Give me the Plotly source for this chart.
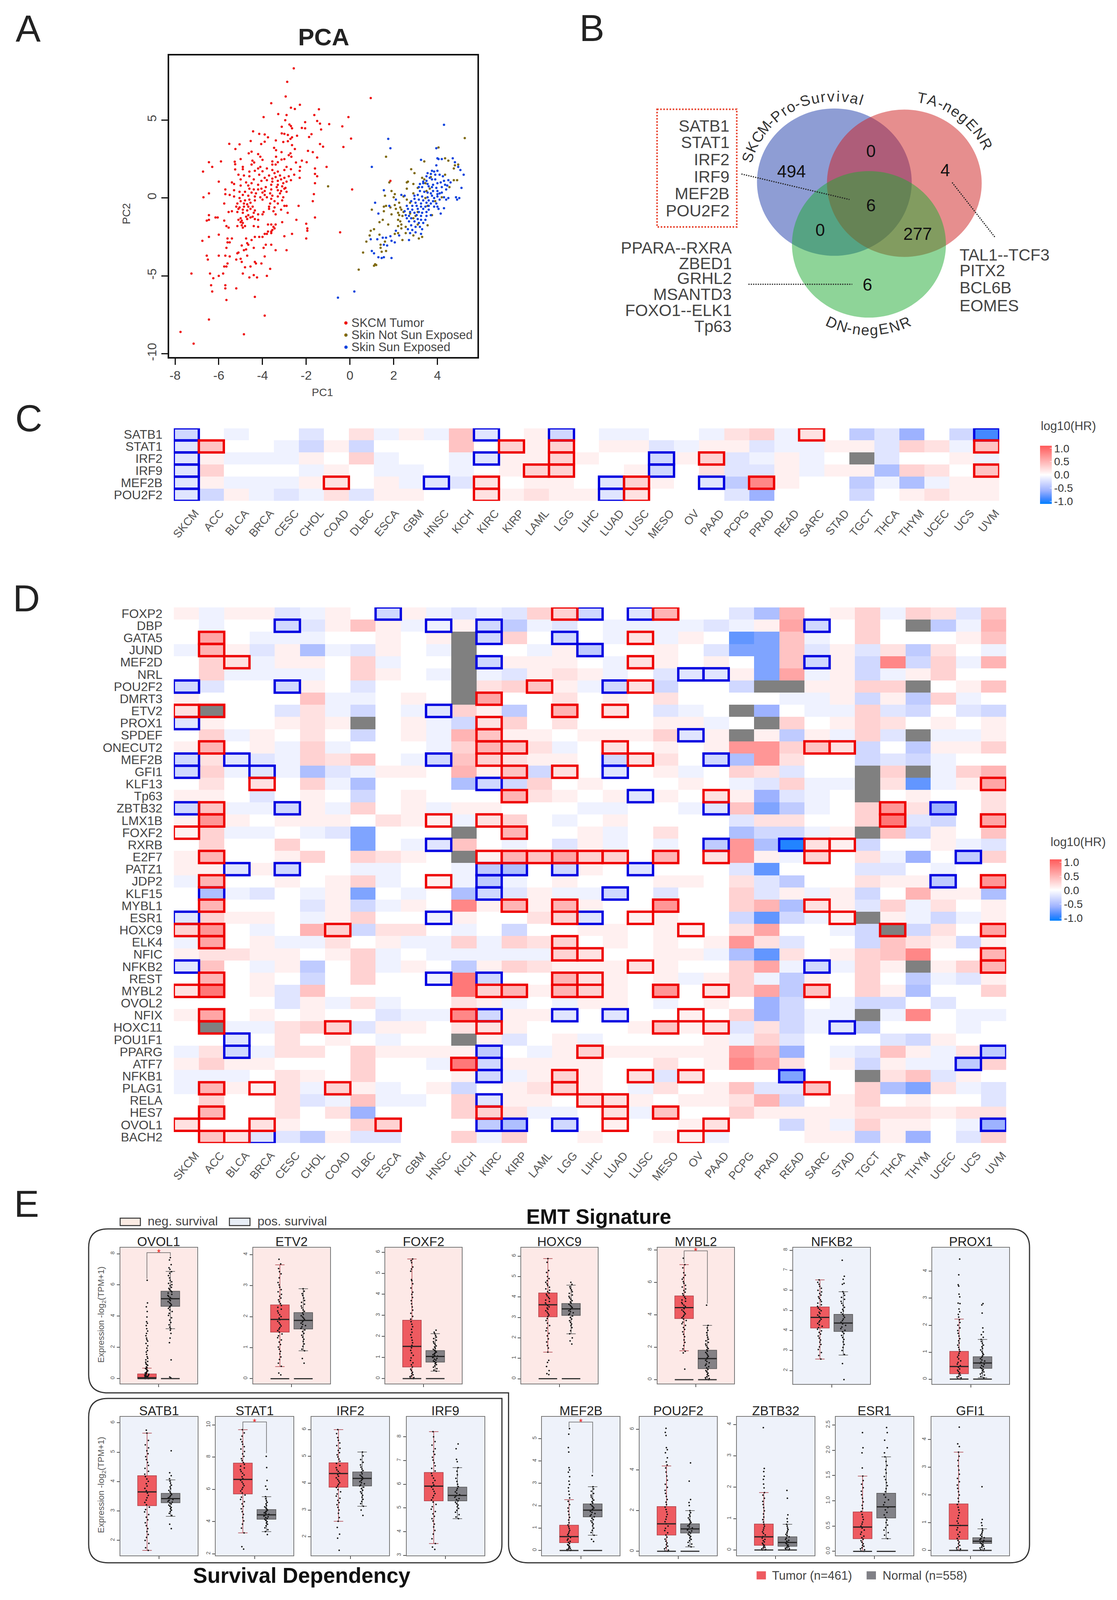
import plotly.graph_objects as go

W, H = 2859, 4310
FONT = "Liberation Sans"
N = None

# ---- panel A ----
tumor_points = [(-2.57,8.33),(-2.87,7.46),(-2.94,6.52),(0.95,6.42),(-3.6,6.09),(-2.29,5.99),(-2.7,5.8),(-2.52,5.72),(-1.42,5.7),(-3.28,5.39),(-2.9,5.33),(-1.63,5.33),(-3.95,5.2),(-0.07,5.2),(-2.96,5.0),(-1.5,4.95),(-2.05,4.87),(-1.37,4.78),(-0.95,4.75),(-2.77,4.72),(-3.12,4.58),(-2.7,4.62),(-0.35,4.6),(-2.2,4.5),(-2.05,4.48),(-2.65,4.48),(-1.32,4.4),(-4.43,4.28),(-4.15,4.12),(-3.9,4.08),(-3.12,4.15),(-3.0,4.12),(-1.76,4.1),(-2.84,4.05),(-2.42,4.0),(-1.87,3.92),(0.05,3.82),(-3.75,3.9),(-2.65,3.9),(-2.72,3.8),(-3.39,3.7),(-2.84,3.65),(-3.05,3.6),(-4.54,3.66),(-3.9,3.62),(-5.52,3.48),(-5.05,3.45),(-1.37,3.47),(-4.06,3.47),(-2.65,3.4),(-1.23,3.3),(-0.3,3.28),(-5.24,3.15),(-3.47,3.22),(-3.38,3.07),(-4.5,2.98),(-2.52,3.15),(-1.92,3.03),(-1.7,2.95),(-4.63,2.87),(-4.2,2.82),(-2.72,2.87),(-3.13,2.95),(-2.8,2.75),(-4.1,2.65),(-5.0,2.5),(-1.5,2.6),(-3.38,2.65),(-2.68,2.65),(-4.0,2.45),(-4.46,2.4),(-3.0,2.5),(-4.38,2.28),(-3.55,2.35),(-3.3,2.3),(-3.13,2.47),(-2.47,2.28),(-5.27,2.33),(-6.45,2.3),(-5.9,2.35),(-4.5,2.15),(-3.4,2.15),(-2.2,2.4),(-1.98,2.3),(-6.3,2.0),(-5.25,2.17),(-3.55,2.15),(-1.07,2.0),(-4.9,2.0),(-4.1,2.0),(-2.9,2.0),(-2.28,2.0),(-1.6,1.9),
(-6.72,1.7),(-5.25,1.84),(-4.9,1.85),(-4.6,1.7),(-4.35,1.75),(-4.2,1.9),(-4.0,1.72),(-3.8,1.9),(-3.55,1.8),(-3.45,1.6),(-3.3,1.7),(-3.0,1.8),(-2.7,1.85),(-2.3,1.75),(-1.6,1.55),(-5.1,1.5),(-4.85,1.45),(-4.6,1.4),(-4.15,1.5),(-3.9,1.3),(-3.7,1.45),(-3.55,1.25),(-3.4,1.35),(-3.2,1.45),(-3.0,1.3),(-2.8,1.4),(-2.55,1.5),(-2.3,1.3),(-1.5,1.4),(-5.0,1.2),(-4.4,1.2),(-4.05,1.1),(-3.8,1.15),(-3.55,1.05),(-3.3,1.1),(-3.15,1.2),(-2.9,1.05),(-2.7,1.15),(-6.0,1.05),(-5.4,1.0),(-4.75,1.0),(-4.5,0.95),(-3.6,0.85),(-3.3,0.85),(-3.05,0.95),(-1.6,0.95),
(-5.3,0.9),(-5.0,0.8),(-4.65,0.8),(-4.2,0.85),(-3.85,0.7),(-3.35,0.7),(-3.1,0.75),(-2.95,0.65),(-4.6,0.6),(-4.4,0.55),(-4.2,0.55),(-4.05,0.6),(-3.9,0.45),(-3.6,0.55),(-3.3,0.5),(-3.15,0.45),(-3.0,0.6),(-5.7,0.55),(-5.3,0.5),(-5.05,0.4),(-4.8,0.4),(-4.5,0.35),(-4.3,0.3),(-4.0,0.35),(-3.9,0.2),(-3.65,0.3),(-3.2,0.3),(-2.9,0.4),(-6.45,0.3),(-5.7,0.25),(-5.5,0.2),(-4.9,0.2),(-4.65,0.15),(-4.35,0.1),(-4.1,0.05),(-3.8,0.05),(-3.55,0.15),(-3.3,0.1),(-3.05,0.05),(-6.7,0.05),(-5.3,0.1),(-5.05,0.0),(-1.65,0.25),
(-4.8,-0.15),(-5.0,-0.2),(-4.6,-0.1),(-4.35,-0.15),(-4.0,-0.1),(-3.6,-0.05),(-3.45,-0.2),(-3.1,-0.15),(-1.7,-0.2),(-5.75,-0.35),(-5.15,-0.35),(-4.85,-0.35),(-4.7,-0.4),(-4.55,-0.3),(-3.65,-0.35),(-3.3,-0.35),(-2.9,-0.5),(-3.0,-0.5),(-5.2,-0.55),(-5.05,-0.6),(-4.85,-0.55),(-4.65,-0.55),(-4.45,-0.55),(-3.7,-0.55),(-3.45,-0.6),(-2.35,-0.5),(-5.1,-0.7),(-4.9,-0.75),(-4.7,-0.8),(-4.55,-0.7),(-4.35,-0.8),(-3.7,-0.7),(-3.15,-0.75),(-5.4,-0.85),(-5.55,-0.9),(-5.15,-0.9),(-4.4,-0.95),(-3.95,-0.9),(-3.5,-0.85),(-2.85,-0.95),(-4.9,-0.95),
(-6.45,-1.1),(-4.65,-1.1),(-4.2,-1.05),(-4.0,-1.05),(-3.4,-1.05),(-4.45,-1.2),(-4.75,-1.2),(-5.0,-1.3),(-4.95,-1.45),(-5.1,-1.4),(-4.7,-1.35),(-4.55,-1.25),(-4.35,-1.35),(-4.2,-1.4),(-6.45,-1.4),(-6.55,-1.45),(-6.15,-1.25),(-6.05,-1.25),(-5.75,-1.45),(-2.45,-1.4),(-1.6,-1.25),(-5.0,-1.55),(-4.9,-1.6),(-3.1,-1.55),(-3.4,-1.7),(-3.6,-1.7),(-3.75,-1.7),(-4.95,-1.75),(-4.8,-1.8),(-5.55,-1.9),(-5.15,-1.8),(-4.4,-1.8),(-5.65,-1.8),(-4.2,-1.85),(-3.5,-1.85),(-2.0,-1.65),(-1.95,-1.95),(-4.9,-1.9),(-3.45,-1.95),
(-1.95,-2.1),(-3.55,-2.05),(-3.75,-2.15),(-3.6,-2.15),(-3.8,-2.3),(-3.9,-2.3),(-3.6,-2.25),(-2.65,-2.3),(-6.0,-2.35),(-4.35,-2.5),(-4.15,-2.5),(-4.0,-2.5),(-6.45,-2.5),(-3.0,-2.45),(-5.6,-2.6),(-5.4,-2.6),(-2.0,-2.6),(-4.75,-2.6),(-4.5,-2.7),(-6.75,-2.75),(-5.5,-2.85),(-5.6,-2.85),(-4.7,-2.9),(-4.65,-3.0),(-3.6,-3.0),(-4.95,-3.05),(-3.85,-3.0),
(-5.65,-3.2),(-4.4,-3.2),(-3.95,-3.2),(-3.4,-3.35),(-2.9,-3.35),(-4.85,-3.35),(-4.75,-3.3),(-5.1,-3.5),(-5.15,-3.55),(-4.7,-3.7),(-6.55,-3.7),(-6.0,-3.7),(-5.7,-3.7),(-5.5,-3.75),(-3.9,-3.75),(-6.5,-3.95),(-5.2,-3.95),(-5.0,-3.9),(-4.95,-4.1),(-4.35,-4.1),(-4.05,-4.2),(-4.3,-4.2),(-5.6,-4.2),(-5.65,-4.4),(-5.75,-4.4),(-4.8,-4.45),(-4.55,-4.4),(-3.65,-4.55),(-7.25,-4.85),(-6.4,-4.85),(-5.8,-4.85),(-4.9,-4.85),(-4.4,-4.95),(-3.8,-5.0),(-6.0,-5.0),(-4.6,-5.1),(-4.25,-5.1),(-6.25,-5.15),(-5.7,-5.6),(-6.35,-5.6),(-5.7,-5.8),(-5.2,-5.8),(-6.3,-6.0),(-4.35,-6.35),(-5.65,-6.55),(-3.9,-7.55),(-6.45,-7.8),(-7.75,-8.6),(-4.85,-8.75),(-7.15,-9.35),(-0.45,-2.2),(0.1,0.55),(1.85,1.1)]
not_exposed_points = [(5.25,3.85),(4.05,3.25),(1.65,2.65),(4.35,2.55),(3.4,2.35),(2.8,1.85),(2.95,1.6),(-1.0,0.75),(1.8,1.0),(2.6,1.0),(2.65,1.05),(3.3,1.3),(3.4,1.2),(2.9,0.9),(4.75,1.15),(4.9,1.15),(4.55,0.7),(4.8,2.1),(4.95,2.15),(4.75,1.9),(3.65,0.6),(3.5,0.45),(3.1,0.65),(2.6,0.6),(1.9,0.45),(2.05,0.25),(1.6,0.15),(2.0,0.05),(2.9,0.3),(3.45,0.0),(2.45,0.1),(2.6,-0.1),(2.25,-0.3),(2.05,-0.45),(1.65,-0.5),(1.55,-0.55),(1.85,-0.6),(2.1,-0.7),(2.3,-0.6),(2.35,-0.75),(2.45,-0.9),(1.0,-0.75),(1.55,-0.85),(2.2,-0.95),(2.25,-1.1),(2.4,-1.15),(1.9,-1.05),(1.5,-1.4),(1.35,-1.55),(1.75,-1.7),(2.2,-1.4),(2.3,-1.5),(2.35,-1.7),(2.2,-1.8),(2.35,-1.95),(2.55,-1.85),(3.1,-1.7),(3.55,-1.75),(1.1,-2.0),(0.95,-2.1),(2.05,-2.3),(2.2,-2.25),(2.55,-2.25),(0.9,-2.4),(1.35,-2.35),(2.9,-2.4),(3.15,-2.6),(3.3,-2.5),(1.6,-2.8),(0.75,-2.8),(2.4,-2.7),(1.4,-3.0),(1.4,-3.2),(1.45,-3.45),(1.65,-3.4),(0.6,-3.5),(0.4,-4.6),(1.15,-4.25),(1.1,-4.35),(1.2,-4.3),(4.35,1.5),(3.7,1.35),(4.2,0.05),(3.9,-0.2),(3.75,-1.1),(2.75,-1.0),(2.9,-1.3),(3.1,-0.9),(3.0,-1.15),(3.55,-0.5),(2.75,-0.3),(3.45,0.95),(4.5,2.4)]
sun_exposed_points = [(-0.55,-6.4),(0.2,-6.0),(4.3,4.7),(1.75,3.8),(1.85,3.2),(3.95,3.2),(1.0,2.0),(5.2,1.5),(3.25,2.45),(4.0,2.55),(4.05,2.5),(4.2,2.5),(4.7,2.55),(4.8,2.3),(3.95,2.1),(4.95,2.0),(5.05,1.8),(4.0,1.75),(3.75,1.75),(3.85,1.7),(3.55,1.6),(3.7,1.55),(3.9,1.5),(4.1,1.5),(4.25,1.4),(3.5,1.4),(3.65,1.3),(3.35,1.05),(3.5,1.1),(3.75,1.2),(3.9,1.2),(4.15,1.0),(4.3,1.1),(4.5,1.15),(4.6,1.0),(3.2,0.9),(3.35,0.95),(3.55,0.9),(3.8,0.85),(4.0,0.95),(4.35,0.85),(4.45,0.8),(4.2,0.7),(3.15,0.7),(3.3,0.7),(3.6,0.75),(3.75,0.7),(3.95,0.65),(5.1,0.65),(4.4,0.55),(4.0,0.45),(3.8,0.45),(3.55,0.35),(3.2,0.45),(3.4,0.4),(3.7,0.3),(4.0,0.25),(4.1,0.3),(4.2,0.35),(1.55,0.5),(2.35,0.2),(2.5,0.15),(2.95,0.15),(3.1,0.2),(3.3,0.1),(3.55,0.05),(3.75,0.15),(3.85,0.0),(4.0,0.1),(4.3,0.05),(4.5,0.0),(4.85,0.05),(5.0,0.0),(2.95,-0.05),(3.15,-0.1),(3.35,-0.15),(3.6,-0.15),(3.8,-0.2),(4.1,-0.1),(4.4,-0.1),(4.9,-0.1),(2.8,-0.2),(3.0,-0.3),(3.25,-0.35),(3.5,-0.3),(3.7,-0.35),(3.95,-0.35),(1.15,-0.3),(2.1,-0.1),(2.6,-0.5),(2.85,-0.5),(3.05,-0.5),(3.25,-0.55),(3.45,-0.55),(3.6,-0.5),(3.85,-0.55),(4.0,-0.55),(1.8,-0.5),(2.65,-0.7),(2.85,-0.75),(3.1,-0.7),(3.35,-0.7),(3.6,-0.75),(4.05,-0.7),(4.3,-0.65),(2.5,-0.85),(2.75,-0.9),(2.95,-0.95),(3.15,-0.9),(3.3,-0.95),(3.5,-0.9),(1.3,-1.0),(4.15,-1.0),(2.55,-1.1),(2.7,-1.15),(3.05,-1.1),(3.25,-1.15),(3.5,-1.15),(3.7,-1.1),(2.6,-1.3),(2.8,-1.3),(3.1,-1.35),(3.25,-1.4),(3.45,-1.4),(2.7,-1.5),(2.95,-1.5),(3.15,-1.6),(3.35,-1.6),(2.8,-1.75),(3.0,-1.85),(3.2,-1.85),(2.65,-2.0),(2.85,-2.05),(3.3,-2.0),(2.1,-2.1),(2.75,-2.25),(3.0,-2.2),(3.25,-2.3),(2.25,-2.4),(1.85,-2.45),(1.5,-2.55),(1.65,-2.55),(0.95,-2.65),(1.25,-2.65),(2.7,-2.7),(1.9,-2.75),(2.05,-2.85),(1.55,-3.0),(1.7,-3.05),(1.0,-3.4),(1.1,-3.55),(1.55,-3.8),(1.3,-3.8),(1.45,-3.85),(1.9,-3.85)]

# ---- panels C, D ----
cancers = ["SKCM","ACC","BLCA","BRCA","CESC","CHOL","COAD","DLBC","ESCA","GBM","HNSC","KICH","KIRC","KIRP","LAML","LGG","LIHC","LUAD","LUSC","MESO","OV","PAAD","PCPG","PRAD","READ","SARC","STAD","TGCT","THCA","THYM","UCEC","UCS","UVM"]
c_genes = ["SATB1","STAT1","IRF2","IRF9","MEF2B","POU2F2"]
# log10(HR) in tenths, None = no data (grey)
c_values = [
 [-3,0,-1,0,0,-2,0,2,-1,1,-1,4,-2,0,1,-3,0,-1,-1,0,0,-1,2,3,-1,2,0,-4,-2,-6,0,-3,-9],
 [-2,4,0,0,-1,-3,1,-3,0,0,0,4,0,3,1,3,0,1,1,-2,-1,1,1,-2,-1,-1,1,1,-2,3,2,-1,4],
 [-2,1,-1,-1,-1,1,0,3,-1,0,0,-1,-2,1,1,3,1,0,0,-3,1,3,-2,-1,1,-1,0,N,-2,0,0,1,-1],
 [-2,3,0,0,0,-1,1,0,-1,-1,0,-1,0,1,3,3,0,0,1,-3,0,2,-2,-2,1,-1,1,1,-5,3,2,0,4],
 [-2,1,-1,-1,-1,1,2,0,1,-1,-2,-2,2,0,1,1,0,-2,3,1,0,-2,-4,8,1,0,0,-4,-1,-5,-1,1,1],
 [-2,-3,1,-1,-2,-1,2,-2,1,1,0,0,2,1,2,1,1,-2,2,0,0,0,-2,-6,0,0,0,-3,0,1,2,1,1],
]
c_red = {"SATB1":["SARC"],"STAT1":["ACC","KIRP","LGG","UVM"],"IRF2":["LGG","PAAD"],"IRF9":["LAML","LGG","UVM"],"MEF2B":["COAD","KIRC","LUSC","PRAD"],"POU2F2":["KIRC","LUSC"]}
c_blue = {"SATB1":["SKCM","KIRC","LGG","UVM"],"STAT1":["SKCM"],"IRF2":["SKCM","KIRC","MESO"],"IRF9":["SKCM","MESO"],"MEF2B":["SKCM","HNSC","LUAD","PAAD"],"POU2F2":["SKCM","LUAD"]}

d_genes = ["FOXP2","DBP","GATA5","JUND","MEF2D","NRL","POU2F2","DMRT3","ETV2","PROX1","SPDEF","ONECUT2","MEF2B","GFI1","KLF13","Tp63","ZBTB32","LMX1B","FOXF2","RXRB","E2F7","PATZ1","JDP2","KLF15","MYBL1","ESR1","HOXC9","ELK4","NFIC","NFKB2","REST","MYBL2","OVOL2","NFIX","HOXC11","POU1F1","PPARG","ATF7","NFKB1","PLAG1","RELA","HES7","OVOL1","BACH2"]
d_values = [
 [1,-1,1,1,-2,-1,1,0,-3,1,-1,-2,-1,-2,3,3,-3,0,-2,5,0,0,-2,-5,5,0,1,3,-1,3,2,-2,4],
 [0,-1,0,0,-3,-2,1,4,1,-1,-1,1,-3,-4,-1,-2,0,-1,-1,-1,-1,-2,-1,1,6,-3,0,3,0,N,-4,-1,5],
 [0,6,0,-1,-1,-1,0,0,1,0,1,N,-3,3,0,-3,0,-1,2,-1,1,0,-8,-7,4,-1,0,3,0,0,0,1,4],
 [-1,5,1,-2,1,-5,-1,-2,1,0,-1,N,0,0,-1,1,-4,0,0,1,0,-2,-7,-7,4,-2,1,-2,2,-4,2,0,-1],
 [0,3,2,-1,1,1,0,3,-1,0,0,N,-3,1,1,1,0,-1,2,1,0,1,0,-7,4,-3,1,-3,8,-3,3,-1,5],
 [0,3,-1,-1,-1,-1,0,3,1,0,-1,N,-1,-2,1,2,1,-1,0,-2,-2,-2,1,-7,6,-1,1,-3,-1,1,3,0,0],
 [-3,-2,0,0,-3,1,0,-2,0,0,0,N,2,3,4,1,-1,-3,2,-3,0,0,-3,N,N,1,1,3,3,N,0,1,4],
 [1,0,0,0,0,4,-1,-1,0,1,0,N,6,0,0,2,0,1,0,2,0,0,0,0,-1,-1,1,-3,1,-4,3,-1,0],
 [2,N,0,0,-2,2,-1,-3,0,-1,-2,3,1,-4,0,5,0,2,0,-2,-1,0,N,-6,0,-1,-1,3,-2,-3,0,-2,-3],
 [-2,1,0,0,1,2,1,N,0,1,-1,-3,2,3,0,2,0,0,0,1,1,-1,0,N,3,0,1,3,2,0,1,0,1],
 [0,3,-1,1,0,2,0,-3,0,1,-1,5,4,1,1,0,1,1,1,3,-2,1,N,1,-4,1,-1,3,-2,N,-1,-1,1],
 [1,5,0,1,-1,3,-1,0,0,0,-1,3,5,4,2,-1,0,2,0,1,0,1,7,7,3,4,2,-3,0,-4,1,1,3],
 [-3,2,-2,-2,-1,3,2,4,0,-1,-3,4,3,2,1,1,0,-3,2,2,0,-3,-5,7,2,0,0,-3,-2,-3,-1,0,0],
 [-3,3,-1,-2,-1,-5,-2,-1,1,1,0,5,1,4,-3,2,0,-2,0,1,-1,0,3,2,-2,0,0,N,3,N,-1,3,5],
 [0,2,0,2,0,3,-1,-5,0,0,0,-5,-3,-3,3,0,1,0,0,0,1,0,-1,-2,3,-1,-1,N,2,-8,-1,1,6],
 [1,1,0,-2,0,1,0,-3,0,1,0,0,0,5,2,1,0,1,-2,1,0,2,1,-6,-2,-1,0,N,0,1,0,0,2],
 [-3,4,-1,-1,-3,1,-1,3,0,1,-1,1,1,0,0,0,-1,-1,0,0,-1,-2,4,-7,-4,-1,0,3,7,2,-6,0,2],
 [1,7,1,0,1,1,1,0,2,1,1,-1,2,3,0,-1,0,1,0,0,0,0,-2,2,2,0,0,3,9,-2,-3,0,6],
 [1,3,-1,-1,0,-1,-2,-7,0,0,0,N,0,5,0,0,1,-1,0,2,0,0,-5,-3,-3,-1,1,N,4,-3,1,0,4],
 [0,3,0,0,3,0,0,-7,0,-1,-2,4,0,-1,0,-2,1,-1,0,-1,0,-4,7,-5,-10,2,1,-3,0,0,1,-1,-2],
 [1,5,0,0,1,3,0,3,2,1,0,N,1,5,4,6,3,3,0,5,0,2,7,1,-1,3,0,2,-1,-6,0,-4,3],
 [1,1,-2,1,-3,0,0,-1,-1,0,0,-1,-4,-5,0,-3,1,0,-2,0,0,0,-2,-8,0,0,0,-2,-2,0,-1,0,0],
 [-1,5,0,0,1,0,1,3,-1,0,1,-1,-4,-1,0,1,0,0,0,1,1,0,2,-2,-4,0,0,2,1,1,-4,0,7],
 [0,-5,-1,-2,0,-1,1,-7,0,-1,0,-5,-3,-2,1,-1,-1,-3,0,-2,0,0,3,-2,1,-1,1,-3,0,5,1,1,-5],
 [0,5,0,0,0,-2,1,-3,-1,1,0,8,1,5,1,5,1,0,0,7,0,0,3,5,-5,2,1,-2,3,-1,2,0,1],
 [-2,3,1,1,0,-1,1,3,0,0,-1,1,0,0,2,3,-2,0,1,1,0,0,-3,-8,-3,-1,1,N,1,-1,-3,-1,1],
 [3,7,0,-1,0,5,3,-3,2,2,0,-1,0,-3,0,0,1,1,0,1,1,0,2,6,0,0,-1,-3,N,-3,2,0,6],
 [-1,6,0,1,-1,-1,2,0,1,-1,-1,3,-1,3,2,3,0,1,0,1,0,1,7,2,-2,0,0,-3,4,2,1,-3,1],
 [1,2,2,1,1,0,1,3,-1,0,-1,-1,-1,-1,-1,3,2,0,0,1,1,-1,-5,-8,2,0,1,3,4,8,0,0,5],
 [-2,4,0,-1,1,-4,0,3,-1,1,0,-4,1,3,2,1,1,1,2,1,0,0,3,6,-1,-3,-1,3,1,N,1,3,5],
 [0,5,0,1,0,-3,0,3,0,0,-1,9,-3,0,0,5,2,1,0,1,-1,1,3,-1,-4,1,0,3,0,-4,-1,-2,1],
 [2,9,0,1,-2,4,0,0,0,0,0,9,3,5,1,5,3,1,0,7,0,2,3,6,-4,4,0,3,1,-5,0,0,3],
 [0,0,0,0,-2,1,-1,2,-1,0,0,2,1,-1,0,-1,1,1,0,-1,0,1,0,-6,-3,0,-1,-3,-3,0,-2,0,0],
 [1,6,0,1,0,1,0,0,-2,-1,-1,8,-3,1,1,-2,0,-2,0,0,1,0,3,-6,-3,-1,-1,N,-1,8,0,-1,-1],
 [0,N,-1,-1,2,3,3,-2,1,1,0,2,2,1,0,0,0,0,1,4,1,2,-2,2,-3,-1,-2,-4,0,0,0,-1,0],
 [0,0,-2,0,2,0,1,0,-1,0,0,N,1,-2,0,1,-1,0,0,0,0,1,-1,3,-2,0,0,0,-2,-3,1,0,0],
 [-1,2,-3,-1,2,2,0,3,1,1,1,1,-4,0,-1,1,3,1,1,1,1,1,7,5,-6,0,-1,-2,4,1,-1,2,-4],
 [1,3,1,1,0,0,0,3,0,0,-1,9,-3,1,1,1,1,0,0,2,0,1,8,6,2,0,1,-3,1,-1,-1,-4,3],
 [-1,-1,-1,0,2,1,0,3,0,0,0,1,-3,-1,1,3,1,0,2,-2,2,0,0,0,-7,0,0,N,2,4,-2,1,0],
 [-1,5,1,1,2,-1,3,1,-1,0,1,-3,0,1,2,3,1,0,-1,2,0,1,4,-2,-2,4,0,3,-5,-7,2,-1,-2],
 [0,3,0,0,2,-2,-1,4,-1,-1,0,3,-2,1,1,0,2,2,1,0,1,1,2,5,-3,0,1,3,0,1,0,0,-2],
 [0,5,0,0,2,0,2,-6,0,0,0,3,3,2,-1,-1,0,2,-1,4,0,0,3,1,1,1,1,2,2,2,1,2,2],
 [2,0,0,2,1,0,0,3,3,0,0,0,-4,-5,0,-3,0,1,0,0,1,2,0,0,-3,1,-1,3,1,1,0,-1,-6],
 [0,4,2,-2,-2,-4,1,-2,-2,0,0,3,-1,3,0,0,1,0,0,1,1,-1,0,0,0,1,1,-4,1,-6,0,-2,3],
]
d_red = {"FOXP2":["LGG","MESO"],"GATA5":["ACC","LUSC"],"JUND":["ACC"],"MEF2D":["BLCA","LUSC"],"POU2F2":["LAML","LUSC"],"DMRT3":["KIRC"],"ETV2":["SKCM","ACC","LGG","LUAD"],"PROX1":["KIRC"],"SPDEF":["KIRC"],"ONECUT2":["ACC","KIRC","KIRP","LUAD","SARC","STAD"],"MEF2B":["KIRC","LUSC"],"GFI1":["KIRP","LGG"],"KLF13":["BRCA","UVM"],"Tp63":["KIRP","PAAD"],"ZBTB32":["ACC","THCA"],"LMX1B":["ACC","HNSC","KIRC","THCA","UVM"],"FOXF2":["SKCM","KIRP"],"RXRB":["SARC","STAD"],"E2F7":["ACC","KIRC","KIRP","LAML","LGG","LIHC","LUAD","MESO","PAAD","SARC"],"JDP2":["ACC","HNSC","UVM"],"MYBL1":["ACC","KIRP","LGG","MESO","SARC"],"ESR1":["LGG","LUSC","STAD"],"HOXC9":["SKCM","ACC","COAD","OV","THCA","UVM"],"ELK4":["ACC","LGG"],"NFIC":["LGG","LIHC","UVM"],"NFKB2":["LUSC","UVM"],"REST":["ACC","LGG","LIHC"],"MYBL2":["SKCM","ACC","KIRC","KIRP","LGG","LIHC","MESO","PAAD","SARC"],"NFIX":["ACC","KICH","OV"],"HOXC11":["ACC","COAD","KIRC","MESO","PAAD"],"PPARG":["LIHC"],"ATF7":["KICH"],"NFKB1":["LGG","LUSC","OV"],"PLAG1":["ACC","BRCA","COAD","LGG","SARC"],"RELA":["LIHC","LUAD"],"HES7":["ACC","KIRC","LUAD","MESO"],"OVOL1":["SKCM","BRCA","ESCA","LUAD","PAAD"],"BACH2":["ACC","BLCA","OV"]}
d_blue = {"FOXP2":["ESCA","LIHC","LUSC"],"DBP":["CESC","HNSC","KIRC","SARC"],"GATA5":["KIRC","LGG"],"JUND":["LIHC"],"MEF2D":["KIRC","SARC"],"NRL":["OV","PAAD"],"POU2F2":["SKCM","CESC","LUAD"],"ETV2":["HNSC"],"PROX1":["SKCM"],"SPDEF":["OV"],"MEF2B":["SKCM","BLCA","HNSC","LUAD","PAAD"],"GFI1":["SKCM","BRCA","LUAD"],"KLF13":["KIRC"],"Tp63":["LUSC"],"ZBTB32":["SKCM","CESC","PAAD","UCEC"],"RXRB":["HNSC","PAAD","READ"],"E2F7":["UCS"],"PATZ1":["BLCA","CESC","KIRC","KIRP","LGG","LUSC"],"JDP2":["KIRC","UCEC"],"KLF15":["ACC","KIRC","LUAD"],"ESR1":["SKCM","HNSC","LIHC"],"NFKB2":["SKCM","SARC"],"REST":["HNSC","KIRC"],"NFIX":["KIRC","LGG","LUAD"],"HOXC11":["STAD"],"POU1F1":["BLCA"],"PPARG":["BLCA","KIRC","UVM"],"ATF7":["KIRC","UCS"],"NFKB1":["KIRC","READ"],"RELA":["KIRC"],"OVOL1":["KIRC","KIRP","LGG","UVM"],"BACH2":["BRCA"]}

# ---- panel E: q1, median, q3, lower, upper ----
tumor_box = {"OVOL1":[.02,.06,.3,0,.67],"ETV2":[1.5,1.91,2.38,.39,3.67],"FOXF2":[.55,1.53,2.77,0,5.68],"HOXC9":[3.03,3.62,4.2,1.3,5.88],"MYBL2":[3.77,4.45,5.17,1.78,7.1],"NFKB2":[4.12,4.65,5.17,2.57,6.52],"PROX1":[.2,.47,1.03,0,2.23],"SATB1":[3.18,3.65,4.2,1.66,5.65],"STAT1":[5.72,6.62,7.63,3.3,9.7],"IRF2":[3.85,4.36,4.76,2.58,6.0],"IRF9":[5.3,5.92,6.5,3.5,8.22],"MEF2B":[.35,.62,1.13,0,2.27],"POU2F2":[.8,1.35,2.2,0,4.2],"ZBTB32":[.15,.42,.83,0,1.83],"ESR1":[.25,.48,.78,0,1.49],"GFI1":[.4,.9,1.68,0,3.55]}
normal_box = {"OVOL1":[4.63,5.12,5.6,3.2,6.87],"ETV2":[1.6,1.88,2.13,.9,2.9],"FOXF2":[.78,1.05,1.33,.35,2.13],"HOXC9":[3.1,3.42,3.68,2.2,4.58],"MYBL2":[.68,1.3,1.82,0,3.35],"NFKB2":[3.95,4.37,4.8,2.77,5.93],"PROX1":[.4,.6,.83,.05,1.47],"SATB1":[3.28,3.42,3.6,2.82,4.06],"STAT1":[4.15,4.42,4.75,3.38,5.55],"IRF2":[3.9,4.18,4.42,3.14,5.16],"IRF9":[5.3,5.53,5.88,4.55,6.7],"MEF2B":[1.5,1.8,2.08,.68,2.85],"POU2F2":[.9,1.1,1.35,.22,2.0],"ZBTB32":[.12,.24,.42,0,.82],"ESR1":[.66,.88,1.15,.25,1.87],"GFI1":[.25,.33,.46,0,.78]}

OVOL1_t = [6.3,4.85,4.6,4.3,3.95,3.65,3.55,3.4,3.2,3.05,2.9,2.75,2.6,2.5,2.4,2.25,2.1,1.95,1.8,1.7,1.55,1.4,1.3,1.2,1.1,1.05,.95,.9,.85,.75,.7,.65,.6,.55,.5,.45,.4,.36,.32,.28,.25,.22,.2,.17,.15,.12,.1,.08,.06,.04,.03,.02,.01,0,0]
OVOL1_n = [7.75,7.6,7.3,7.1,7.0,6.85,6.75,6.6,6.45,6.3,6.2,6.1,6.02,5.95,5.85,5.78,5.7,5.62,5.55,5.48,5.4,5.33,5.26,5.2,5.13,5.07,5.0,4.93,4.86,4.8,4.72,4.65,4.58,4.5,4.4,4.3,4.18,4.05,3.9,3.75,3.6,3.45,3.3,3.2,3.1,2.9,2.6,2.3,1.2,.1,.05]
ETV2_t = [3.85,3.7,3.55,3.45,3.38,3.25,3.1,3.02,2.95,2.87,2.8,2.72,2.66,2.6,2.54,2.48,2.42,2.36,2.3,2.24,2.18,2.12,2.06,2.0,1.95,1.9,1.85,1.8,1.75,1.7,1.65,1.6,1.55,1.5,1.44,1.38,1.32,1.25,1.18,1.1,1.02,.95,.88,.8,.7,.62,.5,.4,.18,.12]
ETV2_n = [2.9,2.82,2.74,2.68,2.6,2.52,2.46,2.4,2.34,2.28,2.22,2.17,2.12,2.07,2.03,1.99,1.95,1.91,1.87,1.83,1.79,1.75,1.71,1.67,1.62,1.57,1.52,1.46,1.4,1.34,1.27,1.2,1.12,1.04,.95,.9,.65,.5]
FOXF2_t = [5.68,5.6,5.5,5.3,5.2,5.1,4.7,4.65,4.5,4.3,4.1,4.0,3.85,3.7,3.55,3.4,3.25,3.1,2.95,2.82,2.7,2.58,2.46,2.34,2.2,2.08,1.95,1.82,1.7,1.58,1.46,1.34,1.22,1.1,.98,.86,.75,.65,.55,.45,.38,.3,.24,.18,.13,.09,.05,.02,0]
FOXF2_n = [2.3,2.2,2.13,2.05,1.97,1.9,1.82,1.75,1.68,1.62,1.55,1.5,1.44,1.39,1.34,1.3,1.26,1.22,1.18,1.14,1.1,1.07,1.03,1.0,.96,.92,.88,.84,.8,.76,.71,.66,.6,.54,.47,.4,.35]
HOXC9_t = [5.88,5.7,5.3,5.2,5.0,4.9,4.8,4.72,4.64,4.56,4.48,4.4,4.33,4.26,4.2,4.13,4.06,3.99,3.92,3.85,3.78,3.71,3.64,3.58,3.52,3.46,3.4,3.33,3.26,3.19,3.12,3.05,2.95,2.85,2.72,2.6,2.48,2.35,2.22,2.1,1.95,1.8,1.62,1.5,1.3,.9,.8,.6,.4,.25,.2]
HOXC9_n = [4.72,4.62,4.5,4.42,4.34,4.26,4.18,4.1,4.03,3.96,3.89,3.82,3.76,3.7,3.64,3.58,3.53,3.48,3.43,3.38,3.33,3.28,3.23,3.18,3.13,3.07,3.0,2.92,2.84,2.76,2.68,2.6,2.5,2.35,2.2,2.0,1.85,1.7]
MYBL2_t = [7.5,7.1,6.9,6.6,6.45,6.3,6.2,6.05,5.95,5.82,5.72,5.6,5.5,5.4,5.3,5.2,5.1,5.0,4.92,4.84,4.76,4.68,4.6,4.52,4.45,4.38,4.3,4.22,4.14,4.06,3.98,3.9,3.82,3.74,3.65,3.55,3.45,3.35,3.22,3.1,2.95,2.8,2.65,2.45,2.3,2.1,1.9,1.75,1.65,.65]
MYBL2_n = [4.6,3.35,3.2,3.05,2.9,2.75,2.62,2.5,2.4,2.3,2.2,2.1,2.0,1.92,1.84,1.76,1.68,1.6,1.52,1.44,1.36,1.28,1.2,1.12,1.04,.96,.88,.8,.72,.64,.56,.48,.4,.32,.24,.18,.12,.07,.03,0]
NFKB2_t = [6.52,6.4,6.3,6.2,6.1,6.0,5.92,5.84,5.76,5.68,5.6,5.52,5.44,5.36,5.28,5.2,5.12,5.05,4.98,4.91,4.84,4.77,4.7,4.63,4.56,4.49,4.42,4.35,4.28,4.21,4.14,4.06,3.98,3.9,3.82,3.72,3.62,3.52,3.42,3.3,3.18,3.05,2.9,2.75,2.57]
NFKB2_n = [7.5,6.7,6.55,6.35,6.3,5.93,5.85,5.75,5.65,5.55,5.45,5.35,5.25,5.15,5.05,4.97,4.89,4.81,4.73,4.65,4.57,4.49,4.41,4.33,4.25,4.17,4.09,4.01,3.93,3.85,3.75,3.65,3.55,3.43,3.3,3.15,3.0,2.8,2.35,1.55]
PROX1_t = [4.45,3.87,3.5,3.45,3.15,3.05,2.82,2.8,2.6,2.5,2.4,2.3,2.2,2.1,2.0,1.9,1.8,1.7,1.6,1.5,1.42,1.34,1.26,1.18,1.1,1.03,.96,.89,.82,.75,.68,.62,.56,.5,.44,.38,.33,.28,.23,.19,.15,.11,.08,.05,.02,0]
PROX1_n = [2.8,2.75,2.45,1.9,1.75,1.65,1.55,1.47,1.4,1.33,1.26,1.2,1.14,1.08,1.02,.96,.91,.86,.81,.76,.71,.67,.63,.59,.55,.51,.47,.43,.39,.35,.31,.27,.23,.19,.15,.1,.05]
SATB1_t = [5.75,5.65,5.4,5.25,5.15,5.05,4.95,4.85,4.75,4.65,4.55,4.45,4.35,4.25,4.17,4.09,4.01,3.93,3.85,3.77,3.69,3.61,3.53,3.45,3.37,3.29,3.21,3.13,3.05,2.97,2.88,2.79,2.7,2.6,2.5,2.4,2.3,2.2,2.1,2.0,1.9,1.75,1.66]
SATB1_n = [5.05,4.3,4.2,4.1,4.02,3.95,3.88,3.82,3.76,3.7,3.65,3.6,3.56,3.52,3.48,3.45,3.42,3.39,3.36,3.33,3.3,3.27,3.24,3.2,3.16,3.12,3.08,3.03,2.98,2.92,2.85,2.55,2.4]
STAT1_t = [9.7,9.5,9.3,9.1,8.95,8.8,8.65,8.5,8.35,8.2,8.05,7.9,7.78,7.66,7.55,7.44,7.33,7.22,7.11,7.0,6.89,6.78,6.67,6.56,6.45,6.34,6.23,6.12,6.01,5.9,5.78,5.65,5.52,5.38,5.24,5.1,4.95,4.8,4.62,4.45,4.25,4.05,3.85,3.6,3.3,2.45,2.3]
STAT1_n = [8.05,7.35,6.55,6.2,6.0,5.55,5.42,5.3,5.2,5.1,5.0,4.92,4.85,4.78,4.72,4.66,4.6,4.55,4.5,4.45,4.4,4.35,4.3,4.25,4.2,4.15,4.08,4.0,3.92,3.84,3.74,3.62,3.5,3.38,3.2]
IRF2_t = [6.0,5.85,5.7,5.6,5.5,5.4,5.3,5.22,5.14,5.06,4.98,4.9,4.82,4.74,4.66,4.58,4.5,4.44,4.38,4.32,4.26,4.2,4.14,4.08,4.02,3.96,3.9,3.84,3.76,3.68,3.6,3.52,3.44,3.36,3.28,3.2,3.1,3.0,2.88,2.72,2.58,2.35,2.1,1.95,1.5]
IRF2_n = [5.16,5.02,4.88,4.78,4.68,4.6,4.53,4.47,4.41,4.35,4.3,4.26,4.22,4.18,4.14,4.1,4.06,4.02,3.98,3.94,3.9,3.85,3.8,3.74,3.68,3.62,3.55,3.48,3.4,3.32,3.24,3.14,3.0,2.8]
IRF9_t = [8.22,8.0,7.8,7.65,7.5,7.38,7.26,7.14,7.02,6.9,6.78,6.67,6.56,6.46,6.36,6.26,6.16,6.06,5.97,5.88,5.79,5.7,5.61,5.52,5.43,5.34,5.25,5.15,5.05,4.95,4.85,4.75,4.65,4.55,4.45,4.32,4.2,4.05,3.9,3.7,3.5,3.35,3.25]
IRF9_n = [7.7,7.5,7.05,6.95,6.7,6.55,6.4,6.25,6.12,6.0,5.9,5.82,5.75,5.68,5.62,5.56,5.5,5.45,5.4,5.35,5.3,5.24,5.18,5.12,5.05,4.98,4.9,4.82,4.72,4.62,4.55]
MEF2B_t = [5.45,5.2,4.6,4.4,3.7,3.6,3.5,3.3,3.1,2.95,2.8,2.65,2.5,2.35,2.2,2.05,1.9,1.75,1.6,1.48,1.36,1.24,1.14,1.06,.98,.9,.83,.76,.7,.64,.58,.52,.46,.41,.36,.31,.26,.22,.18,.14,.1,.07,.04,.02,0,0]
MEF2B_n = [3.35,2.85,2.75,2.65,2.55,2.47,2.39,2.32,2.25,2.18,2.12,2.06,2.0,1.95,1.9,1.85,1.8,1.75,1.7,1.65,1.6,1.55,1.5,1.44,1.38,1.32,1.25,1.18,1.1,1.0,.9,.8,.68,.5,.4]
POU2F2_t = [6.05,5.85,5.7,5.1,5.0,4.85,4.6,4.4,4.25,4.1,3.9,3.7,3.5,3.3,3.15,3.0,2.85,2.7,2.55,2.42,2.3,2.18,2.06,1.94,1.82,1.7,1.58,1.46,1.35,1.24,1.13,1.02,.91,.8,.7,.6,.5,.41,.33,.25,.18,.12,.06,.02,0]
POU2F2_n = [4.35,3.45,2.55,2.4,2.25,2.0,1.9,1.8,1.72,1.64,1.56,1.49,1.42,1.36,1.3,1.25,1.2,1.15,1.1,1.05,1.0,.95,.9,.85,.79,.73,.66,.59,.52,.44,.36,.28,.22]
ZBTB32_t = [3.9,2.6,2.5,2.35,2.25,2.1,1.98,1.83,1.75,1.65,1.55,1.45,1.35,1.25,1.15,1.05,.97,.89,.82,.76,.7,.64,.58,.53,.48,.43,.38,.34,.3,.26,.22,.18,.15,.12,.09,.07,.04,.02,0,0]
ZBTB32_n = [1.9,1.65,1.12,1.0,.9,.82,.76,.7,.65,.6,.55,.5,.46,.42,.38,.34,.31,.28,.25,.22,.19,.16,.13,.1,.08,.06,.04,.02,0]
ESR1_t = [2.35,2.05,1.95,1.65,1.49,1.4,1.33,1.26,1.19,1.12,1.05,.98,.91,.85,.79,.73,.68,.63,.58,.54,.5,.46,.42,.38,.34,.3,.27,.24,.21,.18,.15,.12,.1,.07,.05,.03,.01,0]
ESR1_n = [2.45,2.35,2.2,2.05,1.95,1.87,1.78,1.7,1.62,1.55,1.48,1.42,1.36,1.3,1.24,1.18,1.12,1.07,1.02,.97,.92,.87,.82,.77,.72,.67,.62,.57,.52,.47,.42,.37,.32,.25]
GFI1_t = [4.45,3.85,3.75,3.55,3.4,3.25,3.05,2.9,2.75,2.6,2.48,2.36,2.24,2.12,2.0,1.88,1.76,1.66,1.56,1.46,1.36,1.26,1.16,1.06,.98,.9,.82,.74,.66,.58,.5,.43,.36,.3,.24,.18,.13,.09,.05,.02,0]
GFI1_n = [2.3,1.12,1.0,.9,.78,.72,.66,.6,.55,.5,.46,.42,.39,.36,.33,.3,.27,.24,.21,.18,.15,.12,.09,.06,.03,0]
box_dots = {"OVOL1":(OVOL1_t,OVOL1_n),"ETV2":(ETV2_t,ETV2_n),"FOXF2":(FOXF2_t,FOXF2_n),"HOXC9":(HOXC9_t,HOXC9_n),"MYBL2":(MYBL2_t,MYBL2_n),"NFKB2":(NFKB2_t,NFKB2_n),"PROX1":(PROX1_t,PROX1_n),"SATB1":(SATB1_t,SATB1_n),"STAT1":(STAT1_t,STAT1_n),"IRF2":(IRF2_t,IRF2_n),"IRF9":(IRF9_t,IRF9_n),"MEF2B":(MEF2B_t,MEF2B_n),"POU2F2":(POU2F2_t,POU2F2_n),"ZBTB32":(ZBTB32_t,ZBTB32_n),"ESR1":(ESR1_t,ESR1_n),"GFI1":(GFI1_t,GFI1_n)}
# gene: tumor end, bracket top, normal end
sig_brackets = {"OVOL1":(6.4,8.07,7.85),"STAT1":(9.7,10.18,8.25),"MYBL2":(7.2,7.95,4.7),"MEF2B":(5.5,5.74,3.47)}
# gene: left, right, top, bottom px, y low, y high, y ticks, baseline under boxes
pink, lilac = "#FDE9E7", "#EEF2FA"
box_panels = [
 ("OVOL1",301,499,3369,3736,-.32,8.38,[0,2,4,6,8],pink,True),
 ("ETV2",643,841,3369,3736,-.16,4.22,[0,1,2,3,4],pink,True),
 ("FOXF2",983,1180,3369,3736,-.24,6.21,[0,1,2,3,4,5,6],pink,True),
 ("HOXC9",1333,1529,3369,3736,-.24,6.41,[0,1,2,3,4,5,6],pink,True),
 ("MYBL2",1683,1880,3369,3736,-.245,8.14,[0,2,4,6,8],pink,True),
 ("NFKB2",2032,2230,3369,3737,1.33,8.12,[2,3,4,5,6,7,8],lilac,False),
 ("PROX1",2390,2588,3369,3737,-.18,4.87,[0,1,2,3,4],lilac,True),
 ("SATB1",301,500,3826,4200,1.49,6.2,[2,3,4,5,6],lilac,False),
 ("STAT1",547,747,3826,4200,1.91,10.49,[2,4,6,8,10],lilac,False),
 ("IRF2",793,993,3826,4200,1.31,6.47,[2,3,4,5,6],lilac,False),
 ("IRF9",1038,1238,3826,4200,3.0,8.84,[3,4,5,6,7,8],lilac,False),
 ("MEF2B",1386,1586,3826,4200,-.22,5.97,[0,1,2,3,4,5],lilac,True),
 ("POU2F2",1637,1836,3826,4200,-.2,6.61,[0,2,4,6],lilac,True),
 ("ZBTB32",1887,2087,3826,4200,-.17,4.24,[0,1,2,3,4],lilac,True),
 ("ESR1",2141,2341,3826,4200,-.08,2.66,[0,.5,1,1.5,2,2.5],lilac,True),
 ("GFI1",2388,2588,3826,4200,-.18,4.82,[0,1,2,3,4],lilac,True),
]
venn_counts = ["494","0","4","6","0","277","6"]
venn_count_xy = [(2027,461),(2232,406),(2423,457),(2232,552),(2101,619),(2352,630),(2223,767)]
boxed_genes = ["SATB1","STAT1","IRF2","IRF9","MEF2B","POU2F2"]
left_genes = ["PPARA--RXRA","ZBED1","GRHL2","MSANTD3","FOXO1--ELK1","Tp63"]
right_genes = ["TAL1--TCF3","PITX2","BCL6B","EOMES"]

HEAT_SCALE = [[0,"#0080FF"],[.091,"#4488FF"],[.227,"#9DB2FF"],[.364,"#D0D8FF"],[.5,"#FFFFFF"],[1,"#FF5A5A"]]

fig = go.Figure()
annotations, shapes = [], []


def fx(x):
    return x / W


def fy(y):
    return 1 - y / H


def text(s, x, y, size, color="#444444", anchor="center", bold=False, angle=0):
    annotations.append(dict(text=f"<b>{s}</b>" if bold else s, x=fx(x), y=fy(y), xref="paper", yref="paper",
                            xanchor=anchor, yanchor="middle", showarrow=False, textangle=angle,
                            font=dict(family=FONT, size=size, color=color)))


def axis_pair(n, left, right, top, bottom):
    ax = dict(domain=[fx(left), fx(right)], anchor=f"y{n}", showgrid=False, zeroline=False)
    ay = dict(domain=[fy(bottom), fy(top)], anchor=f"x{n}", showgrid=False, zeroline=False)
    return ax, ay


def letter_width(c):
    if c in "il-It":
        return .32
    if c in "rf":
        return .42
    if c in "MNDCKEARSUP":
        return .72
    return .56


def arc_text(s, cx, cy, r, a0, a1, bottom=False):
    # one annotation per letter, turned along the circle
    import math
    widths = [letter_width(c) for c in s]
    total = sum(widths)
    run = 0
    for c, w in zip(s, widths):
        a = a0 + (a1 - a0) * (run + w / 2) / total
        run += w
        rad = a * math.pi / 180
        x = cx + r * math.cos(rad)
        y = cy - r * math.sin(rad)
        text(c, x, y, 38, "#333333", angle=(270 - a) if bottom else (90 - a))


def rounded(points, radius, flat=()):
    # svg path through the corner points, in paper fractions; corners in flat stay square
    import math
    parts = []
    k = len(points)
    for i, p in enumerate(points):
        prev, nxt = points[i - 1], points[(i + 1) % k]
        r = 0 if i in flat else radius
        dp = math.hypot(p[0] - prev[0], p[1] - prev[1])
        dn = math.hypot(p[0] - nxt[0], p[1] - nxt[1])
        a = (p[0] + (prev[0] - p[0]) * r / dp, p[1] + (prev[1] - p[1]) * r / dp)
        b = (p[0] + (nxt[0] - p[0]) * r / dn, p[1] + (nxt[1] - p[1]) * r / dn)
        parts.append(f"{'M' if i == 0 else 'L'} {fx(a[0])} {fy(a[1])} Q {fx(p[0])} {fy(p[1])} {fx(b[0])} {fy(b[1])}")
    return " ".join(parts) + " Z"


layout_axes = {}

# panel A
ax, ay = axis_pair(1, 427, 1220, 148, 962)
frame = dict(showline=True, mirror=True, linecolor="#111111", linewidth=4, ticks="outside", ticklen=16, tickwidth=3,
             tickcolor="#111111", tickfont=dict(family=FONT, size=32, color="#444444"))
ax.update(frame, range=[-8.27, 5.83], tickvals=[-8,-6,-4,-2,0,2,4], ticktext=["-8","-6","-4","-2","0","2","4"])
ay.update(frame, range=[-10.2, 9.15], tickvals=[-10,-5,0,5], ticktext=["-10","-5","0","5"], tickangle=-90)
layout_axes["xaxis"], layout_axes["yaxis"] = ax, ay
for pts, col, name in [(tumor_points, "#EE1111", "SKCM Tumor"), (not_exposed_points, "#7F6A12", "Skin Not Sun Exposed"),
                       (sun_exposed_points, "#1144DD", "Skin Sun Exposed")]:
    fig.add_trace(go.Scatter(x=[p[0] for p in pts], y=[p[1] for p in pts], mode="markers", name=name, showlegend=False,
                             marker=dict(size=6, color=col), xaxis="x", yaxis="y"))
text("PCA", 825, 98, 62, "#222222", bold=True)
text("PC1", 821, 1058, 28)
text("PC2", 317, 575, 28, angle=-90)
for s, y, col in [("SKCM Tumor", 870, "#EE1111"), ("Skin Not Sun Exposed", 903, "#7F6A12"), ("Skin Sun Exposed", 936, "#1144DD")]:
    text(f"<span style='color:{col}'>•</span> {s}", 874, y, 31, anchor="left")

# panel B
for cx, cy, r, col in [(2138, 490, 199, "rgba(30,60,170,0.5)"), (2318, 493, 199, "rgba(205,30,30,0.5)"), (2227, 658, 198, "rgba(30,170,50,0.5)")]:
    shapes.append(dict(type="circle", xref="paper", yref="paper", x0=fx(cx - r), x1=fx(cx + r), y0=fy(cy - r), y1=fy(cy + r),
                       fillcolor=col, line=dict(width=0), layer="below"))
for s, (x, y) in zip(venn_counts, venn_count_xy):
    text(s, x, y, 44, "#111111")
arc_text("SKCM-Pro-Survival", 2138, 490, 232, 167, 71)
arc_text("TA-negENR", 2318, 493, 235, 82, 23)
arc_text("DN-negENR", 2227, 658, 232, 242, 297, bottom=True)
for s, y in zip(boxed_genes, [338, 383, 429, 475, 521, 567]):
    text(s, 1870, y, 42, anchor="right")
for s, y in zip(left_genes, [667, 710, 750, 793, 836, 880]):
    text(s, 1876, y, 42, anchor="right")
for s, y in zip(right_genes, [686, 729, 775, 824]):
    text(s, 2458, y, 42, anchor="left")
shapes.append(dict(type="rect", xref="paper", yref="paper", x0=fx(1682), x1=fx(1887), y0=fy(293), y1=fy(611),
                   line=dict(color="#E8402A", width=4, dash="dot")))
for x0, y0, x1, y1 in [(1899, 468, 2177, 537), (2441, 491, 2552, 640), (1917, 766, 2184, 766)]:
    shapes.append(dict(type="line", xref="paper", yref="paper", x0=fx(x0), x1=fx(x1), y0=fy(y0), y1=fy(y1),
                       line=dict(color="#222222", width=3, dash="dot")))


# panels C and D
def heat_panel(n, genes, values, red, blue, box, bar_top, bar_len, bar_x):
    left, right, top, bottom = box
    assert all(len(r) == len(cancers) for r in values) and len(values) == len(genes)
    ax, ay = axis_pair(n, left, right, top, bottom)
    ax.update(range=[-.5, len(cancers) - .5], tickvals=[i + .35 for i in range(len(cancers))], ticktext=cancers, tickangle=-50,
              ticks="", ticklabelstandoff=8, tickfont=dict(family=FONT, size=29, color="#555555"))
    ay.update(range=[len(genes) - .5, -.5], tickvals=list(range(len(genes))), ticktext=genes, ticks="", ticklabelstandoff=28,
              tickfont=dict(family=FONT, size=32, color="#444444"))
    layout_axes[f"xaxis{n}"], layout_axes[f"yaxis{n}"] = ax, ay
    xs, ys = list(range(len(cancers))), list(range(len(genes)))
    fig.add_trace(go.Heatmap(x=xs, y=ys, z=[[1 if v is None else None for v in r] for r in values], zmin=0, zmax=1, showscale=False,
                             colorscale=[[0, "#808080"], [1, "#808080"]], hoverinfo="skip", xaxis=f"x{n}", yaxis=f"y{n}"))
    z = [[None if v is None else v / 10 for v in r] for r in values]
    fig.add_trace(go.Heatmap(x=xs, y=ys, z=z, zmin=-1.1, zmax=1.1, colorscale=HEAT_SCALE, xaxis=f"x{n}", yaxis=f"y{n}",
                             colorbar=dict(x=fx(bar_x), xanchor="left", xpad=0, y=fy(bar_top), yanchor="top", ypad=0, lenmode="pixels",
                                           len=bar_len, thicknessmode="pixels", thickness=30, outlinewidth=0, tickvals=[1, .5, 0, -.5, -1],
                                           ticktext=["1.0", "0.5", "0.0", "-0.5", "-1.0"], ticks="inside", tickcolor="#FFFFFF", ticklen=5,
                                           tickfont=dict(family=FONT, size=28, color="#333333"))))
    for marks, col in [(blue, "#0000E0"), (red, "#EE0000")]:
        for gene, cols in marks.items():
            row = genes.index(gene)
            for c in cols:
                i = cancers.index(c)
                shapes.append(dict(type="rect", xref=f"x{n}", yref=f"y{n}", x0=i - .5, x1=i + .5, y0=row - .5, y1=row + .5,
                                   line=dict(color=col, width=6), fillcolor="rgba(0,0,0,0)"))


heat_panel(2, c_genes, c_values, c_red, c_blue, (439, 2562, 1155, 1351), 1202, 149, 2667)
heat_panel(3, d_genes, d_values, d_red, d_blue, (439, 2580, 1639, 3086), 2320, 157, 2692)
text("log10(HR)", 2667, 1149, 31, anchor="left")
text("log10(HR)", 2692, 2273, 31, anchor="left")

# panel E
for j, (gene, left, right, top, bottom, lo, hi, ticks, bg, base) in enumerate(box_panels):
    n = 4 + j
    ax, ay = axis_pair(n, left, right, top, bottom)
    line = dict(showline=True, mirror=True, linecolor="#777777", linewidth=2, ticks="outside", tickcolor="#555555", ticklen=7, tickwidth=2)
    ax.update(line, range=[-.145, 3.145], tickvals=[1.5], showticklabels=False)
    ay.update(line, range=[lo, hi], tickvals=ticks, ticktext=[f"{t:.1f}" if gene == "ESR1" else str(t) for t in ticks], tickangle=-90,
              tickfont=dict(family=FONT, size=14, color="#555555"))
    layout_axes[f"xaxis{n}"], layout_axes[f"yaxis{n}"] = ax, ay
    shapes.append(dict(type="rect", xref=f"x{n} domain", yref=f"y{n} domain", x0=0, x1=1, y0=0, y1=1, fillcolor=bg, line=dict(width=0), layer="below"))
    text(gene, (left + right) / 2, top - 17, 33, "#222222")
    for pos, stats, dots, fill, edge in [(1, tumor_box[gene], box_dots[gene][0], "#EE5A60", "#B04048"), (2, normal_box[gene], box_dots[gene][1], "rgba(110,110,115,0.85)", "#555555")]:
        q1, med, q3, low, up = stats
        common = dict(x=[pos], width=.8, xaxis=f"x{n}", yaxis=f"y{n}", showlegend=False, hoverinfo="skip")
        fig.add_trace(go.Box(q1=[q1], median=[med], q3=[q3], lowerfence=[low], upperfence=[up], fillcolor=fill, line=dict(color=edge, width=1.5), whiskerwidth=.5, **common))
        fig.add_trace(go.Box(y=dots, x=[pos] * len(dots), width=.8, boxpoints="all", jitter=.28, pointpos=0, fillcolor="rgba(0,0,0,0)", line=dict(width=0),
                             marker=dict(size=4, color="#111111"), xaxis=f"x{n}", yaxis=f"y{n}", showlegend=False, hoverinfo="skip"))
        fig.add_trace(go.Box(q1=[med], median=[med], q3=[med], lowerfence=[med], upperfence=[med], line=dict(color="#222222", width=3), **common))
        if base:
            fig.add_trace(go.Box(q1=[0], median=[0], q3=[0], lowerfence=[0], upperfence=[0], line=dict(color="#333333", width=3), **common))
    if gene in sig_brackets:
        a, t, b = sig_brackets[gene]
        fig.add_trace(go.Scatter(x=[1, 1, 2, 2], y=[a, t, t, b], mode="lines", line=dict(color="#666666", width=1.5), xaxis=f"x{n}", yaxis=f"y{n}", showlegend=False, hoverinfo="skip"))
        annotations.append(dict(text="*", x=1.5, y=t, xref=f"x{n}", yref=f"y{n}", showarrow=False, yanchor="middle", font=dict(family=FONT, size=24, color="#EE1111")))

ylab = "Expression -log<sub>2</sub>(TPM+1)"
text(ylab, 253, 3550, 22, "#555555", angle=-90)
text(ylab, 253, 4010, 22, "#555555", angle=-90)
text("EMT Signature", 1532, 3285, 53, "#111111", bold=True)
text("Survival Dependency", 768, 4254, 55, "#111111", bold=True)
for x0, x1, y0, y1, col in [(301, 353, 3289, 3309, "#FBEBE3"), (582, 635, 3289, 3309, "#E8EEF7")]:
    shapes.append(dict(type="rect", xref="paper", yref="paper", x0=fx(x0), x1=fx(x1), y0=fy(y0), y1=fy(y1), fillcolor=col, line=dict(color="#333333", width=2.5)))
text("neg. survival", 370, 3297, 32, anchor="left")
text("pos. survival", 652, 3297, 32, anchor="left")
for x0, x1, col in [(1938, 1962, "#EE5A60"), (2221, 2245, "#808086")]:
    shapes.append(dict(type="rect", xref="paper", yref="paper", x0=fx(x0), x1=fx(x1), y0=fy(4243), y1=fy(4265), fillcolor=col, line=dict(width=0)))
text("Tumor (n=461)", 1976, 4255, 31, anchor="left")
text("Normal (n=558)", 2260, 4255, 31, anchor="left")
emt_outline = [(220, 3318), (2640, 3318), (2640, 4220), (1300, 4220), (1300, 3761), (220, 3761)]
surv_outline = [(220, 3776), (1283, 3776), (1283, 4220), (220, 4220)]
shapes.append(dict(type="path", xref="paper", yref="paper", path=rounded(emt_outline, 50, flat=(4,)), line=dict(color="#333333", width=3)))
shapes.append(dict(type="path", xref="paper", yref="paper", path=rounded(surv_outline, 50, flat=(1,)), line=dict(color="#333333", width=3)))

for s, x, y in [("A", 64, 74), ("B", 1514, 73), ("C", 66, 1128), ("D", 60, 1614), ("E", 60, 3250)]:
    text(s, x, y, 96, "#222222")

fig.update_layout(width=W, height=H, margin=dict(l=0, r=0, t=0, b=0), paper_bgcolor="white", plot_bgcolor="white",
                  boxmode="overlay", showlegend=False, annotations=annotations, shapes=shapes, font=dict(family=FONT), **layout_axes)
# the browser screen can be shorter than the page (seen: 4096), keep the whole figure inside it
page_script = """document.body.style.margin='0';
Plotly.relayout(document.getElementById('{plot_id}'), {height: Math.min(4310, window.innerHeight)});"""
fig.write_html("out.html", post_script=page_script, config={"displayModeBar": False})
